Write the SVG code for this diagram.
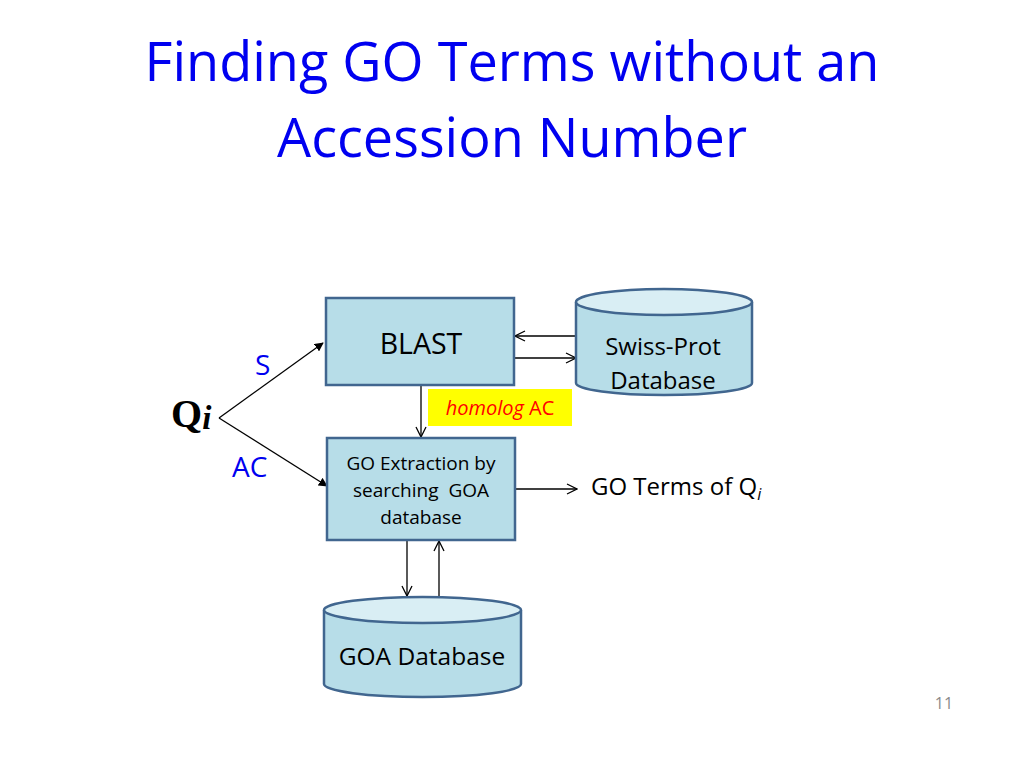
<svg xmlns="http://www.w3.org/2000/svg" width="1024" height="768" viewBox="0 0 1024 768">
<style>
.box{fill:#b7dde8;stroke:#41668f;stroke-width:2.5}
.ctop{fill:#d9eef4;stroke:#41668f;stroke-width:2.5}
.t{font-family:"Open Sans","Liberation Sans",sans-serif;fill:#000}
.blue{font-family:"Open Sans","Liberation Sans",sans-serif;fill:#0000f0}
.ln{stroke:#000;stroke-width:1.3;fill:none}
</style>
<defs>
<marker id="ah" viewBox="0 0 12 12" refX="11" refY="6" markerWidth="12" markerHeight="12" markerUnits="userSpaceOnUse" orient="auto">
<path d="M1,1 L11,6 L1,11" fill="none" stroke="#000" stroke-width="1.3"/>
</marker>
<marker id="ahf" viewBox="0 0 10 10" refX="9" refY="5" markerWidth="9" markerHeight="9" markerUnits="userSpaceOnUse" orient="auto">
<path d="M0,0 L10,5 L0,10 Z" fill="#000"/>
</marker>
</defs>
<rect width="1024" height="768" fill="#fff"/>
<g id="title">
<text class="blue" x="512" y="81" text-anchor="middle" font-size="55" textLength="735" lengthAdjust="spacingAndGlyphs">Finding GO Terms without an</text>
<text class="blue" x="512" y="157" text-anchor="middle" font-size="55" textLength="470" lengthAdjust="spacingAndGlyphs">Accession Number</text>
</g>
<g id="connectors">
<line class="ln" x1="219" y1="418" x2="323" y2="343" marker-end="url(#ahf)"/>
<line class="ln" x1="219" y1="418" x2="327" y2="486" marker-end="url(#ahf)"/>
<line class="ln" x1="576" y1="336" x2="515" y2="336" marker-end="url(#ah)"/>
<line class="ln" x1="515" y1="358" x2="576" y2="358" marker-end="url(#ah)"/>
<line class="ln" x1="421" y1="386" x2="421" y2="437" marker-end="url(#ah)"/>
<line class="ln" x1="516" y1="489" x2="577" y2="489" marker-end="url(#ah)"/>
<line class="ln" x1="407" y1="541" x2="407" y2="596" marker-end="url(#ah)"/>
<line class="ln" x1="439" y1="597" x2="439" y2="541" marker-end="url(#ah)"/>
</g>
<g id="qi">
<text x="171" y="427" font-family="'Liberation Serif',serif" font-weight="bold" font-size="40">Q<tspan font-style="italic" font-size="33" dy="2">i</tspan></text>
</g>
<g id="label-s"><text class="blue" x="255" y="375" font-size="28">S</text></g>
<g id="label-ac"><text class="blue" x="232" y="477" font-size="28">AC</text></g>
<g id="blast">
<rect class="box" x="326" y="298" width="188" height="87"/>
<text class="t" x="421" y="354" text-anchor="middle" font-size="28.5">BLAST</text>
</g>
<g id="swissprot">
<path class="box" d="M576,302 L576,383 A88,12 0 0 0 752,383 L752,302"/>
<ellipse class="ctop" cx="664" cy="302" rx="88" ry="13"/>
<text class="t" x="663" y="355" text-anchor="middle" font-size="24">Swiss-Prot</text>
<text class="t" x="663" y="389" text-anchor="middle" font-size="24">Database</text>
</g>
<g id="homolog">
<rect x="428" y="389" width="144" height="37" fill="#ffff00"/>
<text x="500" y="415" text-anchor="middle" font-size="20" font-family="'Open Sans','Liberation Sans',sans-serif" fill="#ff0000"><tspan font-style="italic">homolog</tspan> AC</text>
</g>
<g id="goextraction">
<rect class="box" x="327" y="438" width="188" height="102"/>
<text class="t" x="421" y="470" text-anchor="middle" font-size="19">GO Extraction by</text>
<text class="t" x="421" y="497" text-anchor="middle" font-size="19" xml:space="preserve">searching  GOA</text>
<text class="t" x="421" y="524" text-anchor="middle" font-size="19">database</text>
</g>
<g id="goterms">
<text class="t" x="591" y="495" font-size="24">GO Terms of Q<tspan font-style="italic" font-size="16" dy="5">i</tspan></text>
</g>
<g id="goadb">
<path class="box" d="M324,610 L324,684 A98.5,13 0 0 0 521,684 L521,610"/>
<ellipse class="ctop" cx="422.5" cy="610" rx="98.5" ry="13"/>
<text class="t" x="422" y="665" text-anchor="middle" font-size="24.5">GOA Database</text>
</g>
<g id="pagenum">
<text x="944" y="709" text-anchor="middle" font-size="16" font-family="'Open Sans','Liberation Sans',sans-serif" fill="#8a8a8a">11</text>
</g>
</svg>
